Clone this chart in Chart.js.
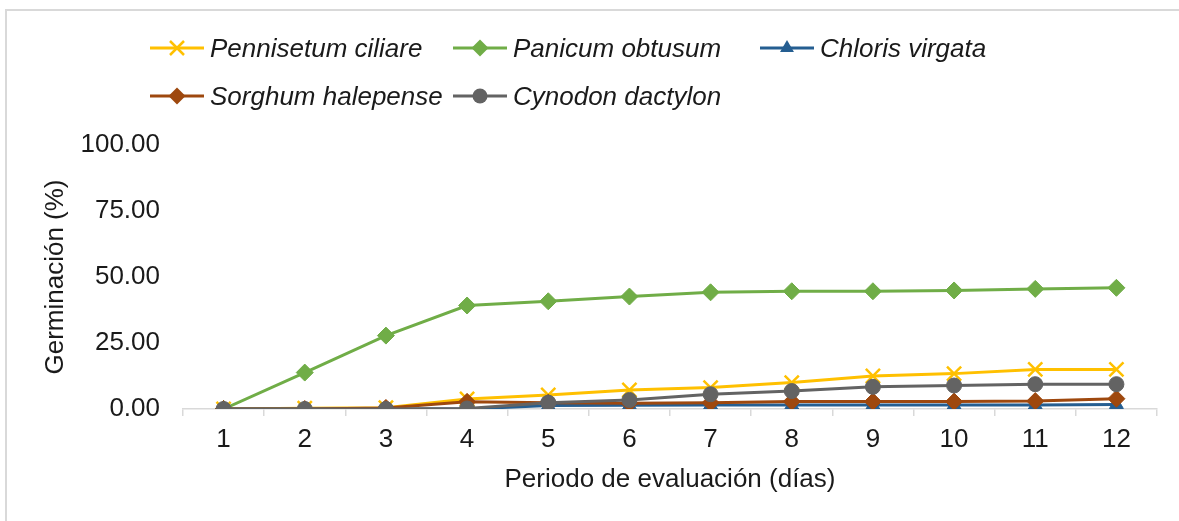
<!DOCTYPE html>
<html lang="es">
<head>
<meta charset="utf-8">
<script src="https://cdn.jsdelivr.net/npm/chart.js@4/dist/chart.umd.min.js"></script>
<style>
  html, body { margin: 0; padding: 0; background: #fff; }
  body { width: 1179px; height: 521px; position: relative; overflow: hidden; font-family: "Liberation Sans", Arial, sans-serif; }
  #marco { position: absolute; left: 5px; top: 9px; width: 1200px; height: 540px; border: 2px solid #d9d9d9; box-sizing: border-box; }
  #grafico { position: absolute; left: 0; top: 0; }
  #leyenda { position: absolute; left: 150px; top: 30px; display: grid; grid-template-columns: 303px 307px 300px; row-gap: 12px; }
  .item { display: flex; align-items: center; height: 36px; font-style: italic; font-size: 26px; color: #1a1a1a; white-space: nowrap; }
  .item canvas { margin-right: 6px; }
</style>
</head>
<body>
<div id="marco"></div>
<canvas id="grafico" width="1179" height="521"></canvas>
<div id="leyenda"></div>
<script>
// Datos del gráfico
const dias = ['1', '2', '3', '4', '5', '6', '7', '8', '9', '10', '11', '12'];
const especies = ['Pennisetum ciliare', 'Panicum obtusum', 'Chloris virgata', 'Sorghum halepense', 'Cynodon dactylon'];
const pennisetum = [0, 0.3, 0.5, 3.8, 5.3, 7.2, 8.1, 10.0, 12.5, 13.4, 15.0, 15.0];
const panicum = [0, 13.8, 27.8, 39.2, 40.8, 42.6, 44.2, 44.6, 44.6, 44.9, 45.5, 45.9];
const chloris = [0, 0, 0, 0, 1.3, 1.4, 1.5, 1.5, 1.5, 1.5, 1.5, 1.7];
const sorghum = [0, 0, 0.4, 2.7, 2.4, 2.2, 2.4, 2.8, 2.8, 2.8, 3.0, 3.9];
const cynodon = [0, 0, 0, 0.2, 2.4, 3.4, 5.6, 6.8, 8.4, 8.9, 9.4, 9.4];
const yTicks = [0, 25, 50, 75, 100];

const series = [pennisetum, panicum, chloris, sorghum, cynodon];
const colores = ['#FFC000', '#70AD47', '#255E91', '#9E480E', '#636363'];
const marcadores = ['crossRot', 'rectRot', 'triangle', 'rectRot', 'circle'];
const radios = [10, 8.5, 8, 8.5, 7.5];

const fuente = { family: '"Liberation Sans", Arial, sans-serif', size: 26 };

const datasets = series.map((valores, i) => ({
    label: especies[i],
    data: valores,
    borderColor: colores[i],
    backgroundColor: colores[i],
    borderWidth: 3,
    pointStyle: marcadores[i],
    pointRadius: radios[i],
    pointBorderWidth: marcadores[i] === 'crossRot' ? 2.5 : 1,
    pointBorderColor: colores[i],
    pointBackgroundColor: colores[i],
    tension: 0,
    order: series.length - i // la última serie queda encima, como en Excel
}));

const chart = new Chart(document.getElementById('grafico'), {
    type: 'line',
    data: { labels: dias, datasets },
    options: {
        responsive: false,
        animation: false,
        layout: { padding: { left: 36, right: 22, top: 145, bottom: 22 } },
        plugins: { legend: { display: false }, tooltip: { enabled: false } },
        scales: {
            x: {
                offset: true,
                grid: { display: true, drawOnChartArea: false, offset: true, color: '#d9d9d9', tickLength: 7, lineWidth: 1.5 },
                border: { display: true, color: '#d9d9d9', width: 1.5 },
                ticks: { color: '#1a1a1a', font: fuente, padding: 8, maxRotation: 0 },
                title: { display: true, text: 'Periodo de evaluación (días)', color: '#1a1a1a', font: fuente, padding: 4 },
                afterFit: s => { s.height = 90; }
            },
            y: {
                min: 0,
                max: 100,
                grid: { display: false, drawTicks: false },
                border: { display: false },
                afterBuildTicks: s => { s.ticks = yTicks.map(v => ({ value: v })); },
                ticks: { color: '#1a1a1a', font: fuente, padding: 23, callback: v => Number(v).toFixed(2) },
                title: { display: true, text: 'Germinación (%)', color: '#1a1a1a', font: fuente, padding: 4 },
                afterFit: s => { s.width = 147; }
            }
        }
    }
});

// Leyenda en HTML con columnas fijas (como la de Excel)
function iconoLeyenda(i) {
    const c = document.createElement('canvas');
    c.width = 54; c.height = 22;
    const g = c.getContext('2d');
    g.strokeStyle = colores[i];
    g.fillStyle = colores[i];
    g.lineWidth = 3;
    g.beginPath(); g.moveTo(0, 11); g.lineTo(54, 11); g.stroke();
    const r = radios[i];
    g.beginPath();
    if (marcadores[i] === 'crossRot') {
        g.lineWidth = 2.5;
        g.moveTo(27 - r * 0.7, 11 - r * 0.7); g.lineTo(27 + r * 0.7, 11 + r * 0.7);
        g.moveTo(27 + r * 0.7, 11 - r * 0.7); g.lineTo(27 - r * 0.7, 11 + r * 0.7);
        g.stroke();
    } else if (marcadores[i] === 'rectRot') {
        g.moveTo(27, 11 - r); g.lineTo(27 + r, 11); g.lineTo(27, 11 + r); g.lineTo(27 - r, 11);
        g.closePath(); g.fill();
    } else if (marcadores[i] === 'triangle') {
        g.moveTo(27, 11 - r); g.lineTo(27 + r * 0.87, 11 + r * 0.5); g.lineTo(27 - r * 0.87, 11 + r * 0.5);
        g.closePath(); g.fill();
    } else {
        g.arc(27, 11, r, 0, Math.PI * 2); g.fill();
    }
    return c;
}

const leyendaEl = document.getElementById('leyenda');
especies.forEach((nombre, i) => {
    const item = document.createElement('div');
    item.className = 'item';
    item.appendChild(iconoLeyenda(i));
    const txt = document.createElement('span');
    txt.textContent = nombre;
    item.appendChild(txt);
    leyendaEl.appendChild(item);
});
</script>
</body>
</html>
